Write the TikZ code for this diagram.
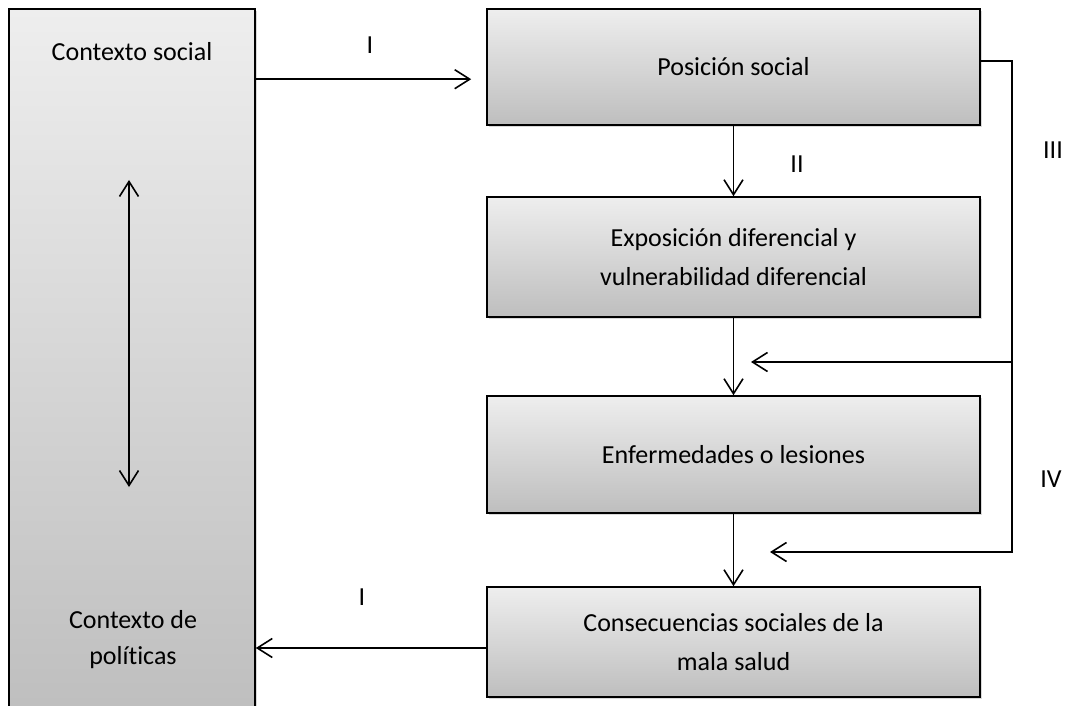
\documentclass[tikz,border=0pt]{standalone}
\usepackage{fontspec}
\setmainfont{Carlito}[Ligatures=NoCommon]
\usetikzlibrary{arrows.meta,shadows}
\definecolor{boxTop}{RGB}{238,238,238}
\definecolor{boxBottom}{RGB}{190,190,190}
\begin{document}
\begin{tikzpicture}[x=1pt,y=-1pt]
\tikzset{module/.style={
rectangle,draw,black,line width=1.6pt,
top color=boxTop,bottom color=boxBottom,
drop shadow={shadow xshift=2pt,shadow yshift=-2pt,opacity=0.3},
minimum width=493pt,
inner sep=0pt,
align=center,
font=\fontsize{26}{39}\selectfont}}

\tikzset{label/.style={
black,inner sep=0pt,align=center,
font=\fontsize{26}{36}\selectfont}}

\tikzset{barb/.tip={Straight Barb[length=15pt,width=19pt,line width=1.6pt]}}

\tikzset{link/.style={
black,line width=1.6pt,-barb}}

\useasboundingbox (0,0) rectangle (1069,706);
\clip (0,0) rectangle (1069,706);

\draw
(132,364.5)
node[module,minimum width=246pt,minimum height=711pt,name=uCtx] {}
(132,52)
node[label,name=uCtxSocial] {Contexto social}
(133,640)
node[label,name=uCtxPol] {Contexto de\\políticas};

\draw
(733.5,67)
node[module,minimum height=116pt,name=uPos] {Posición social};

\draw
(733.5,257)
node[module,minimum height=120pt,name=uExp]
{Exposición diferencial y\\vulnerabilidad diferencial};

\draw
(733.5,454.5)
node[module,minimum height=117pt,name=uEnf] {Enfermedades o lesiones};

\draw
(733.5,642)
node[module,minimum height=110pt,name=uCons]
{Consecuencias sociales de la\\mala salud};

\path
([yshift=-71pt]uCtx.north east) coordinate (ctxOut)
([yshift=-6pt]uCons.west) coordinate (consOut)
([yshift=6pt]uPos.east) coordinate (posOut)
(1012,362) coordinate (loopMid)
(1012,552) coordinate (loopBot)
(751,362) coordinate (tipIII)
(770,552) coordinate (tipIV)
(129,180) coordinate (ctxUp)
(129,487) coordinate (ctxDown);

\draw[link,shorten >=15pt] (ctxOut) -- (ctxOut -| uPos.west);
\draw[link] (consOut) -- (consOut -| uCtx.east);
\draw[link] (uPos.south) -- (uExp.north);
\draw[link] (uExp.south) -- (uEnf.north);
\draw[link] (uEnf.south) -- (uCons.north);
\draw[link] (posOut) -| (loopBot) -- (tipIV);
\draw[link] (loopMid) -- (tipIII);
\draw[link,barb-barb] (ctxUp) -- (ctxDown);

\path
(370,45) node[label,name=tagI] {I}
(362,597) node[label,name=tagIb] {I}
(797,164) node[label,name=tagII] {II}
(1053,150) node[label,name=tagIII] {III}
(1051,479) node[label,name=tagIV] {IV};

\end{tikzpicture}
\end{document}
